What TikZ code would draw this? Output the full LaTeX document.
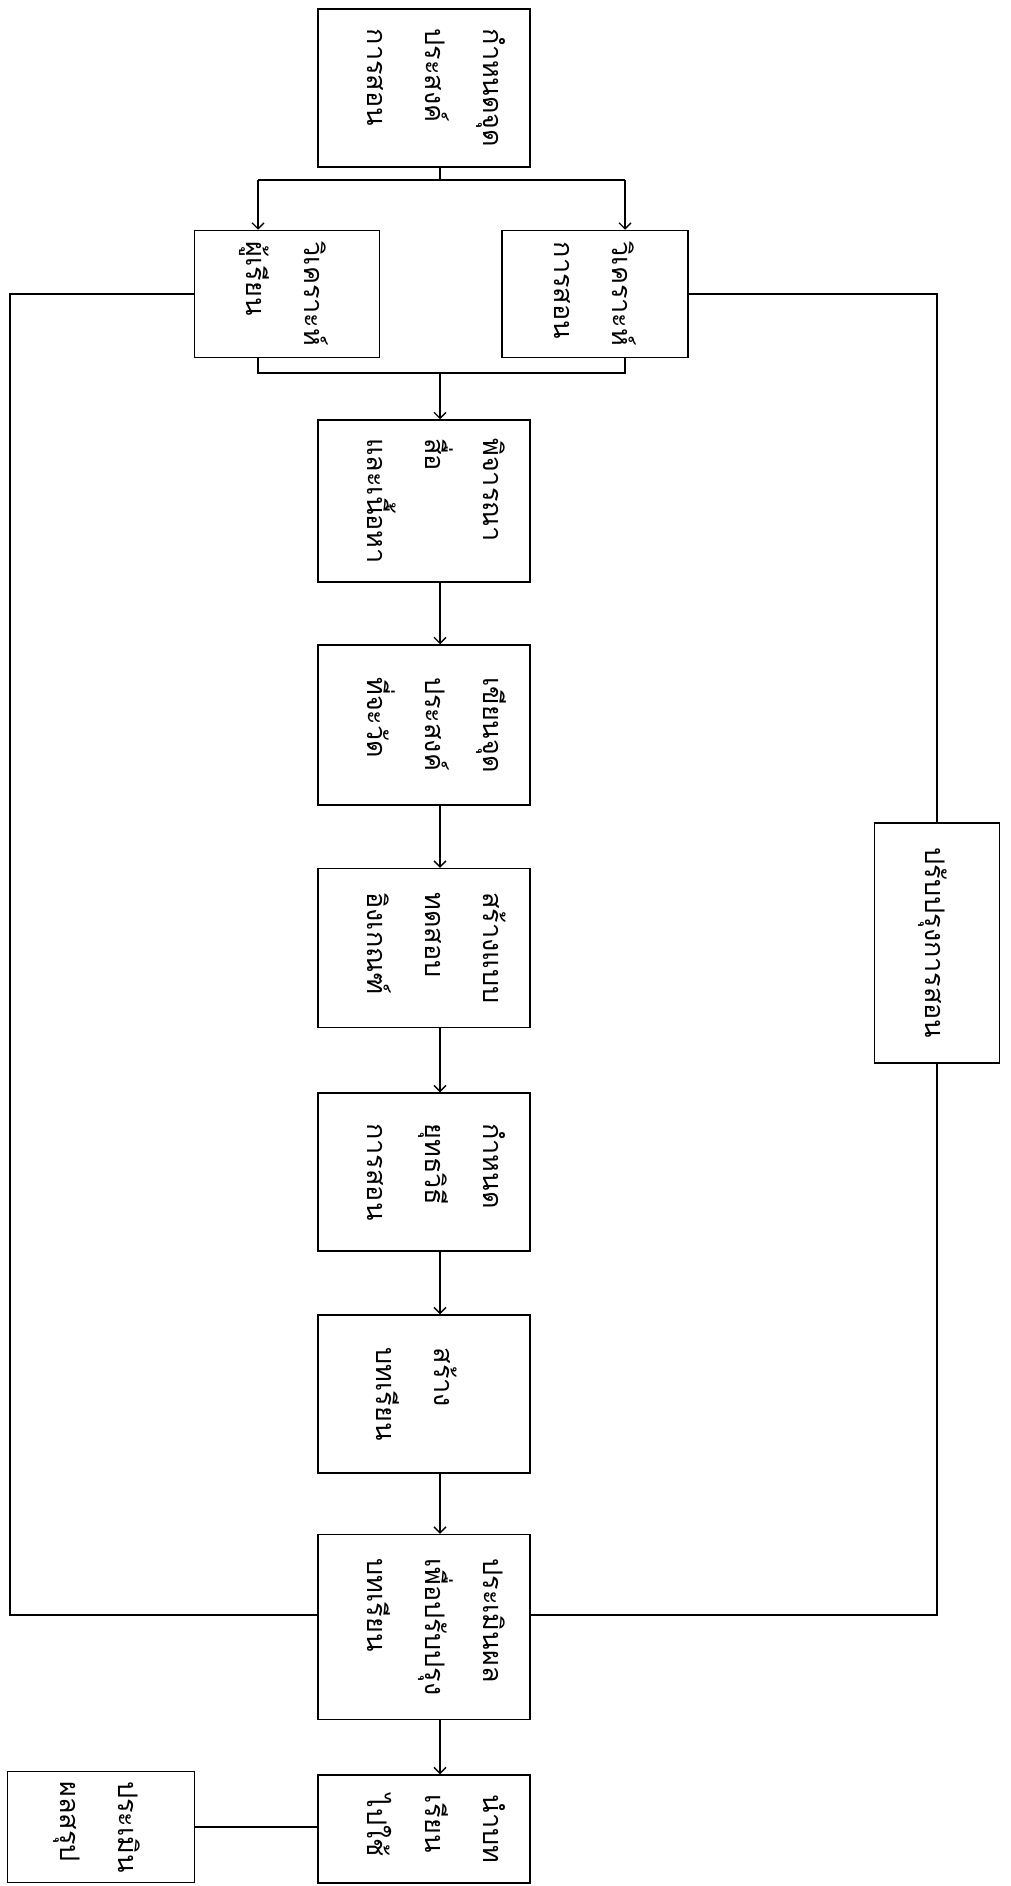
\documentclass[tikz,border=0pt]{standalone}
\usepackage{fontspec}
\usepackage{graphicx}
\usepackage{tikz}
\usetikzlibrary{arrows.meta,calc}
\newfontfamily\thaifont[Script=Thai]{Loma}
\newcommand{\vlines}[2][0pt]{\hspace*{#1}\rotatebox{-90}{\fontsize{27}{58}\selectfont\begin{tabular}{@{}l@{}}#2\end{tabular}}}
\tikzset{
  blk/.style={draw,line width=1.5pt,inner sep=0pt,font=\thaifont},
  flow/.style={line width=1.3pt},
  go/.style={flow,-{Straight Barb[length=6pt,width=12pt,line width=1.3pt]}}
}

\begin{document}
\begin{tikzpicture}[x=1pt,y=-1pt]
  \useasboundingbox (0,0) rectangle (1011,1886);
  % boxes, top to bottom
  \node[blk,minimum width=212,minimum height=158] (goal) at (424,88) {\vlines[26pt]{กำหนดจุด\\ประสงค์\\การสอน}};
  \node[blk,minimum width=185,minimum height=127] (learner) at (287,294) {\vlines{วิเคราะห์\\ผู้เรียน}};
  \node[blk,minimum width=186,minimum height=127] (task) at (595,294) {\vlines{วิเคราะห์\\การสอน}};
  \node[blk,minimum width=212,minimum height=162] (media) at (424,501) {\vlines[26pt]{พิจารณา\\สื่อ\\และเนื้อหา}};
  \node[blk,minimum width=212,minimum height=160] (objective) at (424,725) {\vlines[26pt]{เขียนจุด\\ประสงค์\\ที่จะวัด}};
  \node[blk,minimum width=212,minimum height=159] (test) at (424,948) {\vlines[26pt]{สร้างแบบ\\ทดสอบ\\อิงเกณฑ์}};
  \node[blk,minimum width=212,minimum height=158] (strategy) at (424,1172) {\vlines[26pt]{กำหนด\\ยุทธวิธี\\การสอน}};
  \node[blk,minimum width=212,minimum height=158] (lesson) at (424,1394) {\vlines[-14pt]{สร้าง\\บทเรียน}};
  \node[blk,minimum width=212,minimum height=185] (evaluate) at (424,1627) {\vlines[26pt]{ประเมินผล\\เพื่อปรับปรุง\\บทเรียน}};
  \node[blk,minimum width=212,minimum height=108] (use) at (424,1829) {\vlines[26pt]{นำบท\\เรียน\\ไปใช้}};
  \node[blk,minimum width=187,minimum height=111] (summary) at (101,1827) {\vlines{ประเมิน\\ผลสรุป}};
  \node[blk,minimum width=125,minimum height=240] (improve) at (937,943) {\vlines{ปรับปรุงการสอน}};

  % split and join
  \coordinate (top) at (440,180);
  \coordinate (la) at (258,180);
  \coordinate (ta) at (625,180);
  \coordinate (jm) at (440,373);
  \coordinate (jl) at (258,373);
  \coordinate (jr) at (625,373);
  \draw[flow] (goal.south -| top) -- (top);
  \draw[flow] (la) -- (ta);
  \draw[go] (la) -- (la |- learner.north);
  \draw[go] (ta) -- (ta |- task.north);
  \draw[flow] (learner.south -| jl) -- (jl) -- (jr) -- (task.south -| jr);
  \draw[go] (jm) -- (jm |- media.north);

  % main chain
  \foreach \a/\b in {media/objective,objective/test,test/strategy,strategy/lesson,lesson/evaluate,evaluate/use}
    \draw[go] (\a.south -| jm) -- (\b.north -| jm);
  \draw[flow] (summary.east) -- (summary.east -| use.west);

  % feedback loops
  \coordinate (ll) at (10,1615);
  \coordinate (rl) at (937,1615);
  \draw[flow] (learner.west) -| (ll) -- (ll -| evaluate.west);
  \draw[flow] (task.east) -| (improve.north);
  \draw[flow] (improve.south) -- (rl) -- (rl -| evaluate.east);
\end{tikzpicture}
\end{document}
